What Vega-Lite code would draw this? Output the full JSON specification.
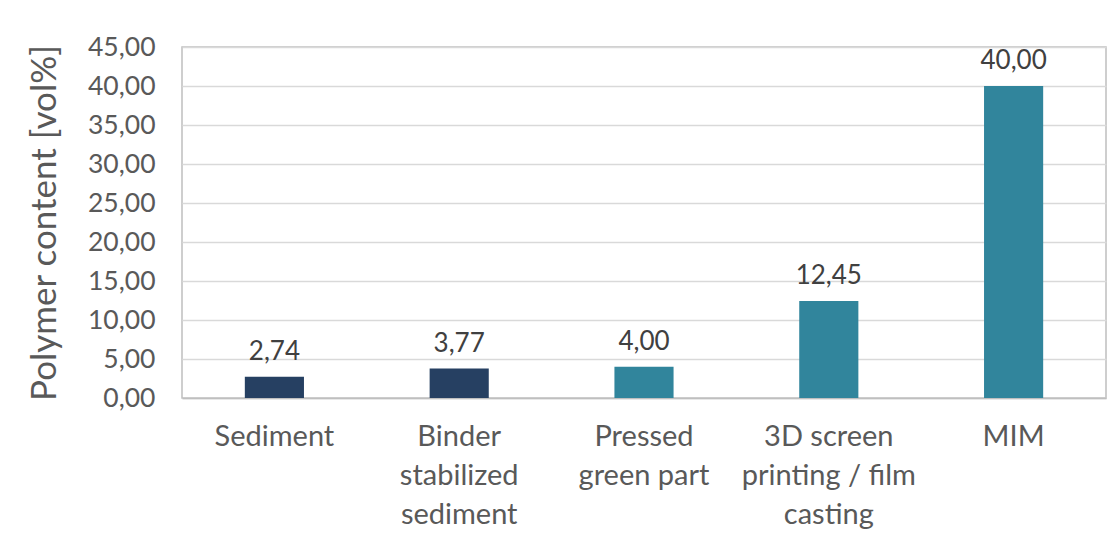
{
  "$schema": "https://vega.github.io/schema/vega-lite/v6.json",
  "width": 924,
  "height": 351,
  "autosize": "none",
  "padding": {"left": 182, "top": 47, "right": 7, "bottom": 147},
  "background": "#ffffff",
  "config": {
    "locale": {
      "number": {"decimal": ",", "thousands": ".", "grouping": [3], "currency": ["", " €"]}
    },
    "font": "Lato",
    "view": {"stroke": "#bfbfbf", "strokeWidth": 1.5}
  },
  "data": {
    "values": [
      {"process": "Sediment", "polymer": 2.74, "kind": "sediment"},
      {"process": "Binder|stabilized|sediment", "polymer": 3.77, "kind": "sediment"},
      {"process": "Pressed|green part", "polymer": 4.00, "kind": "shaped"},
      {"process": "3D screen|printing / film|casting", "polymer": 12.45, "kind": "shaped"},
      {"process": "MIM", "polymer": 40.00, "kind": "shaped"}
    ]
  },
  "encoding": {
    "x": {
      "field": "process",
      "type": "nominal",
      "sort": null,
      "scale": {"paddingInner": 0.68, "paddingOuter": 0.34},
      "axis": {
        "title": null,
        "labelAngle": 0,
        "labelExpr": "split(datum.label, '|')",
        "labelFontSize": 29,
        "labelColor": "#595959",
        "labelLineHeight": 39,
        "labelBaseline": "top",
        "labelPadding": 24,
        "labelLimit": 300,
        "ticks": false,
        "domainColor": "#bfbfbf",
        "domainWidth": 1.5
      }
    },
    "y": {
      "field": "polymer",
      "type": "quantitative",
      "scale": {"domain": [0, 45], "nice": false},
      "axis": {
        "title": "Polymer content [vol%]",
        "titleFontSize": 35,
        "titleFontWeight": "normal",
        "titleColor": "#595959",
        "titlePadding": 25,
        "values": [0, 5, 10, 15, 20, 25, 30, 35, 40, 45],
        "format": ".2f",
        "labelFontSize": 26.5,
        "labelColor": "#595959",
        "labelPadding": 27,
        "ticks": false,
        "domain": false,
        "gridColor": "#d9d9d9",
        "gridWidth": 1.5
      }
    }
  },
  "layer": [
    {
      "mark": {"type": "bar"},
      "encoding": {
        "color": {
          "field": "kind",
          "type": "nominal",
          "scale": {"domain": ["sediment", "shaped"], "range": ["#264062", "#31859c"]},
          "legend": null
        }
      }
    },
    {
      "mark": {"type": "text", "baseline": "alphabetic", "dy": -17, "fontSize": 26, "color": "#404040"},
      "encoding": {
        "text": {"field": "polymer", "type": "quantitative", "format": ".2f"}
      }
    }
  ]
}
